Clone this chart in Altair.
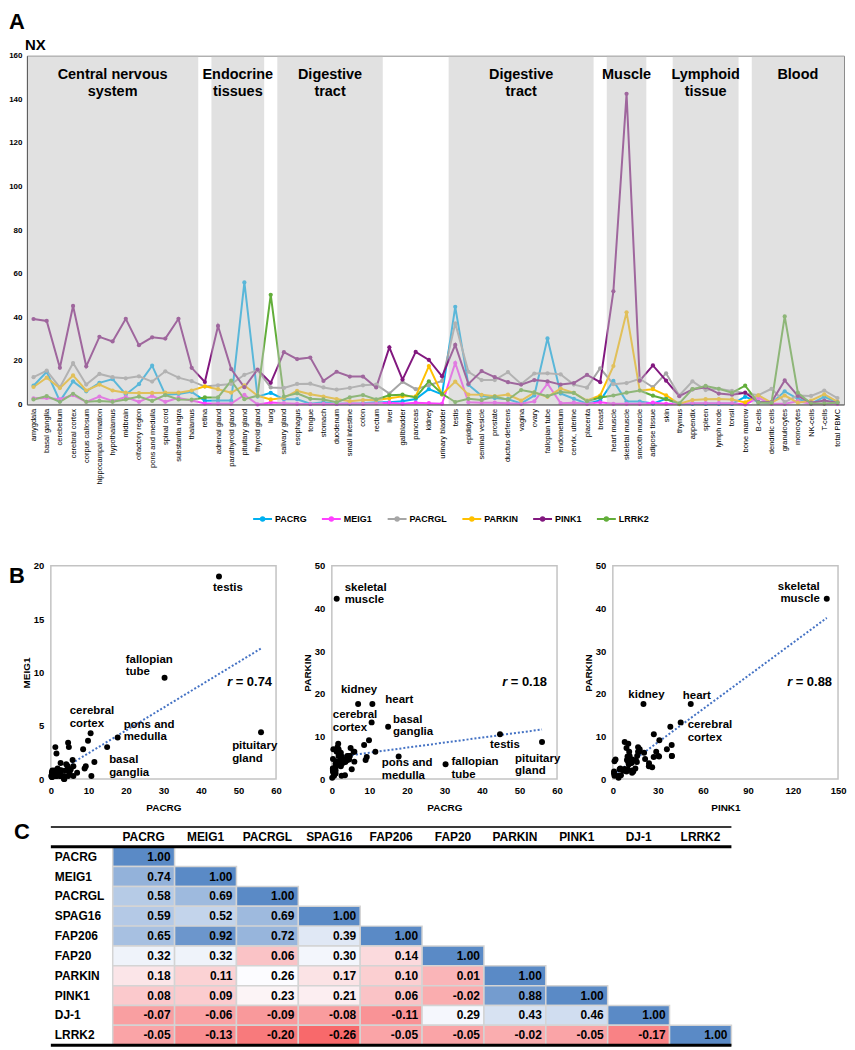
import altair as alt
import pandas as pd
import numpy as np

FONT = 'Liberation Sans'

# ---------------- data ----------------
tissues = ['amygdala', 'basal ganglia', 'cerebellum', 'cerebral cortex', 'corpus callosum',
           'hippocampal formation', 'hypothalamus', 'midbrain', 'olfactory region', 'pons and medulla',
           'spinal cord', 'substantia nigra', 'thalamus', 'retina', 'adrenal gland', 'parathyroid gland',
           'pituitary gland', 'thyroid gland', 'lung', 'salivary gland', 'esophagus', 'tongue', 'stomach',
           'duodenum', 'small intestine', 'colon', 'rectum', 'liver', 'gallbladder', 'pancreas', 'kidney',
           'urinary bladder', 'testis', 'epididymis', 'seminal vesicle', 'prostate', 'ductus deferens',
           'vagina', 'ovary', 'fallopian tube', 'endometrium', 'cervix, uterine', 'placenta', 'breast',
           'heart muscle', 'skeletal muscle', 'smooth muscle', 'adipose tissue', 'skin', 'thymus',
           'appendix', 'spleen', 'lymph node', 'tonsil', 'bone marrow', 'B-cells', 'dendritic cells',
           'granulocytes', 'monocytes', 'NK-cells', 'T-cells', 'total PBMC']

PACRG = [8.6, 15.0, 1.5, 10.6, 6.0, 9.9, 11.6, 4.6, 9.3, 17.8, 4.5, 4.8, 5.8, 1.7, 1.8, 1.8, 56.0, 3.6,
         5.3, 2.4, 2.4, 0.3, 1.0, 0.3, 0.4, 0.6, 1.0, 1.0, 1.5, 2.5, 7.0, 4.6, 44.8, 9.0, 4.0, 2.9, 2.4,
         0.5, 4.1, 30.3, 5.0, 2.6, 0.4, 1.8, 10.8, 1.3, 1.3, 0.4, 2.6, 0.1, 0.3, 0.3, 0.3, 0.3, 3.5, 1.2,
         0.6, 6.0, 2.6, 0.4, 3.5, 1.0]
MEIG1 = [2.8, 3.0, 2.4, 4.3, 1.2, 3.6, 1.6, 3.4, 1.2, 3.9, 1.2, 3.0, 1.8, 0.4, 0.4, 0.4, 4.4, 0.0,
         0.9, 0.6, 0.3, 0.2, 0.3, 0.2, 0.5, 0.3, 0.6, 0.8, 0.3, 0.8, 0.6, 0.3, 19.0, 1.0, 0.8, 0.8, 0.6,
         0.3, 1.4, 9.5, 0.6, 0.8, 0.3, 1.0, 0.3, 0.3, 0.3, 0.8, 0.3, 0.3, 0.6, 0.6, 0.6, 0.6, 0.0, 3.0,
         0.3, 0.3, 1.5, 0.3, 0.3, 0.3]
PACRGL = [12.5, 15.5, 7.8, 19.0, 9.1, 14.0, 12.5, 12.0, 12.9, 10.5, 15.2, 12.3, 10.7, 8.2, 8.8, 9.4,
          13.6, 15.7, 7.8, 7.6, 9.4, 9.5, 7.8, 6.8, 7.6, 8.8, 9.1, 5.0, 10.4, 7.0, 8.8, 10.8, 37.2, 15.0,
          11.2, 11.2, 14.8, 9.4, 14.2, 14.3, 13.8, 9.1, 7.7, 16.6, 9.3, 9.8, 11.8, 7.9, 14.3, 4.1, 10.6,
          6.6, 7.2, 6.2, 5.1, 4.2, 7.2, 1.1, 4.1, 3.9, 6.4, 2.9]
PARKIN = [8.0, 12.3, 7.5, 13.3, 6.4, 9.1, 6.4, 5.4, 5.2, 5.3, 5.4, 5.4, 6.4, 8.3, 7.0, 5.4, 8.7, 4.0,
          2.3, 3.0, 6.2, 4.7, 3.6, 2.5, 1.5, 2.0, 2.0, 2.8, 3.7, 3.7, 17.6, 4.6, 10.5, 4.5, 4.4, 3.8, 4.5,
          1.8, 5.4, 3.5, 7.3, 5.3, 1.8, 4.1, 17.6, 42.3, 6.4, 7.0, 4.2, 0.3, 2.0, 2.4, 2.5, 2.3, 0.9, 4.2,
          0.8, 4.1, 0.8, 1.8, 4.6, 1.3]
PINK1 = [39.2, 38.3, 16.8, 45.2, 17.5, 31.0, 28.9, 39.3, 27.2, 30.8, 30.2, 39.3, 16.8, 10.3, 36.0,
         16.2, 7.9, 16.0, 9.9, 24.0, 20.8, 21.5, 10.8, 15.0, 12.8, 12.8, 7.8, 26.2, 11.4, 24.1, 20.4,
         12.9, 27.3, 9.4, 15.3, 12.5, 10.2, 9.1, 11.2, 10.6, 9.1, 9.8, 13.6, 10.2, 51.9, 142.5, 10.9,
         17.9, 10.9, 3.8, 6.9, 7.9, 5.0, 4.5, 5.4, 1.1, 1.1, 11.0, 3.9, 0.8, 1.8, 0.8]
LRRK2 = [2.3, 3.8, 1.2, 4.9, 1.2, 1.6, 1.2, 2.3, 3.6, 1.6, 4.3, 2.3, 2.2, 3.2, 3.2, 10.9, 2.4, 4.0,
         50.3, 3.6, 5.1, 2.6, 2.3, 1.0, 3.3, 4.3, 2.3, 4.2, 4.5, 3.2, 10.6, 4.9, 1.1, 2.6, 2.0, 3.6, 2.2,
         6.6, 5.5, 3.8, 5.7, 5.3, 1.5, 3.2, 4.1, 5.4, 6.4, 4.0, 2.4, 0.5, 7.0, 8.5, 7.2, 5.4, 8.6, 0.8,
         0.8, 40.4, 5.4, 0.4, 0.4, 0.8]

line_genes = ['PACRG', 'MEIG1', 'PACRGL', 'PARKIN', 'PINK1', 'LRRK2']
line_colors = ['#00B0F0', '#FF40FF', '#A6A6A6', '#FFC000', '#82187F', '#62AE3A']

group_labels = ['Central nervous\nsystem', 'Endocrine\ntissues', 'Digestive\ntract',
                'Digestive\ntract', 'Muscle', 'Lymphoid\ntissue', 'Blood']
group_first = ['amygdala', 'adrenal gland', 'salivary gland', 'testis', 'heart muscle', 'thymus', 'B-cells']
group_last = ['thalamus', 'thyroid gland', 'rectum', 'placenta', 'smooth muscle', 'tonsil', 'total PBMC']

corr_genes = ['PACRG', 'MEIG1', 'PACRGL', 'SPAG16', 'FAP206', 'FAP20', 'PARKIN', 'PINK1', 'DJ-1', 'LRRK2']
corr_rows = [
    [1.00],
    [0.74, 1.00],
    [0.58, 0.69, 1.00],
    [0.59, 0.52, 0.69, 1.00],
    [0.65, 0.92, 0.72, 0.39, 1.00],
    [0.32, 0.32, 0.06, 0.30, 0.14, 1.00],
    [0.18, 0.11, 0.26, 0.17, 0.10, 0.01, 1.00],
    [0.08, 0.09, 0.23, 0.21, 0.06, -0.02, 0.88, 1.00],
    [-0.07, -0.06, -0.09, -0.08, -0.11, 0.29, 0.43, 0.46, 1.00],
    [-0.05, -0.13, -0.20, -0.26, -0.05, -0.05, -0.02, -0.05, -0.17, 1.00],
]

r_values = ['0.74', '0.18', '0.88']

# ---------------- panel A ----------------
n = len(tissues)
series = dict(zip(line_genes, [PACRG, MEIG1, PACRGL, PARKIN, PINK1, LRRK2]))
wide = pd.DataFrame({'tissue': tissues, 'pos': np.arange(n) + 0.5, **series})
long = wide.melt(id_vars=['tissue', 'pos'], value_vars=line_genes, var_name='gene', value_name='nx')

groups = pd.DataFrame({
    'label': group_labels,
    'start': [tissues.index(t) for t in group_first],
    'end': [tissues.index(t) + 1 for t in group_last],
})
groups['mid'] = (groups['start'] + groups['end']) / 2

W_A, H_A = 820, 350
label_expr = '[' + ','.join("'" + t + "'" for t in tissues) + '][floor(datum.value)]'
x_scale_A = alt.Scale(domain=[0, n], nice=False, zero=False)
x_axis_A = alt.Axis(values=[i + 0.5 for i in range(n)], labelExpr=label_expr, labelAngle=-90,
                    labelFont=FONT, labelFontSize=7.5, labelColor='black', labelPadding=4,
                    ticks=False, domainColor='#595959', grid=False, labelOverlap=False,
                    labelFlush=False, zindex=1)
y_scale_A = alt.Scale(domain=[0, 160], nice=False)
y_axis_A = alt.Axis(values=list(range(0, 161, 20)), labelFont=FONT, labelFontSize=8,
                    labelFontWeight='bold', labelColor='black', labelPadding=5, ticks=False,
                    domainColor='#595959', grid=False, zindex=1)


def xA(field):
    return alt.X(field, type='quantitative', scale=x_scale_A, axis=x_axis_A, title=None)


legend_A = alt.Legend(orient='none', legendX=226, legendY=454, direction='horizontal', title=None,
                      symbolType='M-1,0L1,0M-0.18,0A0.18,0.18,0,1,1,0.18,0A0.18,0.18,0,1,1,-0.18,0Z',
                      symbolSize=360, symbolStrokeWidth=2, labelFont=FONT, labelFontSize=9,
                      labelFontWeight='bold', labelColor='black', columnPadding=11, labelOffset=2)
color_A = alt.Color('gene:N', scale=alt.Scale(domain=line_genes, range=line_colors),
                    sort=line_genes, legend=legend_A)

baseA = alt.Chart(long).encode(
    x=xA('pos'),
    y=alt.Y('nx:Q', scale=y_scale_A, axis=y_axis_A, title=None),
    color=color_A,
    detail='gene:N',
)
lines = baseA.mark_line(strokeWidth=2)
dots = baseA.mark_circle(size=18, opacity=1)

bands = alt.Chart(groups).mark_rect(color='#bfbfbf', opacity=0.47).encode(
    x=xA('start'), x2='end:Q', y=alt.datum(160), y2=alt.datum(0))
band_text = alt.Chart(groups).mark_text(
    font=FONT, fontSize=14.5, fontWeight='bold', color='black', lineBreak='\n',
    lineHeight=17.5, baseline='top', align='center').encode(
    x=xA('mid'), y=alt.value(12), text='label:N')

letterA = alt.Chart(pd.DataFrame({'t': ['A']})).mark_text(
    font=FONT, fontSize=22, fontWeight='bold', color='black', align='left', baseline='alphabetic').encode(
    x=alt.value(-18), y=alt.value(-27), text='t:N')
nx_text = alt.Chart(pd.DataFrame({'t': ['NX']})).mark_text(
    font=FONT, fontSize=15, fontWeight='bold', color='black', align='left', baseline='alphabetic').encode(
    x=alt.value(-2), y=alt.value(-6), text='t:N')

chartA = alt.layer(lines, dots, bands, band_text, letterA, nx_text).properties(
    width=W_A, height=H_A, view=alt.ViewBackground(stroke='#8c8c8c', strokeWidth=1))

# ---------------- panel B ----------------
W_S, H_S = 226, 214
ax_common = dict(labelFont=FONT, labelFontSize=9.5, labelFontWeight='bold', labelColor='black',
                 titleFont=FONT, titleFontSize=10, titleFontWeight='bold', titleColor='black',
                 ticks=False, domain=False, grid=False, labelFlush=False)


def scatter(xg, yg, xmax, xstep, ymax, ystep, labels, r_txt, r_x, letter=None):
    xs = alt.X(f'{xg}:Q', scale=alt.Scale(domain=[0, xmax], nice=False),
               axis=alt.Axis(values=list(range(0, xmax + 1, xstep)), labelPadding=6, titlePadding=8,
                             **ax_common), title=xg)
    ys = alt.Y(f'{yg}:Q', scale=alt.Scale(domain=[0, ymax], nice=False),
               axis=alt.Axis(values=list(range(0, ymax + 1, ystep)), labelPadding=7, titlePadding=2,
                             **ax_common), title=yg)
    base = alt.Chart(wide).encode(x=xs, y=ys)
    layers = [
        base.transform_regression(xg, yg).mark_line(color='#4472C4', strokeDash=[2, 2], strokeWidth=2),
        base.mark_circle(size=36, color='black', opacity=1),
    ]
    for tissue, lines_txt, dx, dy, align in labels:
        layers.append(base.transform_filter(alt.datum.tissue == tissue).mark_text(
            text=lines_txt, dx=dx, dy=dy, align=align, baseline='top', font=FONT, fontSize=11.5,
            fontWeight='bold', color='black', lineHeight=12.5))
    rdf = pd.DataFrame({'t': ['= ' + r_txt]})
    layers.append(alt.Chart(rdf).mark_text(font=FONT, fontSize=13, fontWeight='bold', color='black',
                                           align='right', baseline='middle').encode(
        x=alt.value(r_x), y=alt.value(117), text='t:N'))
    layers.append(alt.Chart(pd.DataFrame({'t': ['r']})).mark_text(
        font=FONT, fontSize=13, fontWeight='bold', fontStyle='italic', color='black',
        align='right', baseline='middle').encode(x=alt.value(r_x - 40), y=alt.value(117), text='t:N'))
    if letter:
        layers.append(alt.Chart(pd.DataFrame({'t': [letter]})).mark_text(
            font=FONT, fontSize=22, fontWeight='bold', color='black', align='left',
            baseline='alphabetic').encode(x=alt.value(-42), y=alt.value(17), text='t:N'))
    return alt.layer(*layers).properties(
        width=W_S, height=H_S, view=alt.ViewBackground(stroke='#c3c3c3', strokeWidth=1.5))


s1 = scatter('PACRG', 'MEIG1', 60, 10, 20, 5, [
    ('testis', ['testis'], -6, 6, 'left'),
    ('fallopian tube', ['fallopian', 'tube'], -39, -24, 'left'),
    ('cerebral cortex', ['cerebral', 'cortex'], -21, -28, 'left'),
    ('pons and medulla', ['pons and', 'medulla'], 6, -19, 'left'),
    ('basal ganglia', ['basal', 'ganglia'], 2, 7, 'left'),
    ('pituitary gland', ['pituitary', 'gland'], -29, 8, 'left'),
], r_values[0], 222, letter='B')

s2 = scatter('PACRG', 'PARKIN', 60, 10, 50, 10, [
    ('skeletal muscle', ['skeletal', 'muscle'], 8, -17, 'left'),
    ('kidney', ['kidney'], 1, -20, 'center'),
    ('heart muscle', ['heart'], 13, -10, 'left'),
    ('cerebral cortex', ['cerebral', 'cortex'], -39, -13, 'left'),
    ('basal ganglia', ['basal', 'ganglia'], 5, -13, 'left'),
    ('testis', ['testis'], -10, 5, 'left'),
    ('pituitary gland', ['pituitary', 'gland'], -27, 11, 'left'),
    ('pons and medulla', ['pons and', 'medulla'], -17, 1, 'left'),
    ('fallopian tube', ['fallopian', 'tube'], 6, -8, 'left'),
], r_values[1], 216)

s3 = scatter('PINK1', 'PARKIN', 150, 30, 50, 10, [
    ('skeletal muscle', ['skeletal', 'muscle'], -7, -18, 'right'),
    ('kidney', ['kidney'], 3, -15, 'center'),
    ('heart muscle', ['heart'], -8, -14, 'left'),
    ('cerebral cortex', ['cerebral', 'cortex'], 7, -3, 'left'),
], r_values[2], 220)

# ---------------- panel C ----------------
row_keys = ['hdr'] + corr_genes
col_keys = ['lbl'] + corr_genes
cells = []
for r in row_keys:
    for c in col_keys:
        d = {'row': r, 'col': c, 'v': np.nan, 'txt': '', 'kind': 'blank'}
        if r == 'hdr' and c != 'lbl':
            d.update(txt=c, kind='head')
        elif c == 'lbl' and r != 'hdr':
            d.update(txt=r, kind='name')
        elif r != 'hdr' and c != 'lbl':
            i, j = corr_genes.index(r), corr_genes.index(c)
            if j <= i:
                v = corr_rows[i][j]
                d.update(v=v, txt=f'{v:.2f}', kind='val')
        cells.append(d)
cells = pd.DataFrame(cells)

W_T, H_T = 683, 219
band = alt.Scale(paddingInner=0, paddingOuter=0)


def xT(bp=None):
    if bp is None:
        return alt.X('col:N', sort=col_keys, scale=band, axis=None, title=None)
    return alt.X('col:N', sort=col_keys, scale=band, axis=None, title=None, bandPosition=bp)


def yT(bp=None):
    if bp is None:
        return alt.Y('row:N', sort=row_keys, scale=band, axis=None, title=None)
    return alt.Y('row:N', sort=row_keys, scale=band, axis=None, title=None, bandPosition=bp)


cbase = alt.Chart(cells)
rects = cbase.mark_rect(stroke='#d4d4d4', strokeWidth=1.5).encode(
    x=xT(), y=yT(),
    fill=alt.condition('isValid(datum.v)',
                       alt.Fill('v:Q', scale=alt.Scale(domain=[-0.26, 0.26, 1.0],
                                                       range=['#F8696B', '#FCFCFF', '#5A8AC6'],
                                                       interpolate='rgb'), legend=None),
                       alt.value('white')))
tstyle = dict(font=FONT, fontSize=12, fontWeight='bold', color='black', baseline='middle')
head_t = cbase.transform_filter(alt.datum.kind == 'head').mark_text(align='center', **tstyle).encode(
    x=xT(), y=yT(), text='txt:N')
name_t = cbase.transform_filter(alt.datum.kind == 'name').mark_text(align='left', dx=4, **tstyle).encode(
    x=xT(0), y=yT(), text='txt:N')
val_t = cbase.transform_filter(alt.datum.kind == 'val').mark_text(align='right', dx=-4, **tstyle).encode(
    x=xT(1), y=yT(), text='txt:N')
rule_top = alt.Chart(pd.DataFrame({'row': ['hdr']})).mark_rule(color='#3a3a3a', strokeWidth=2).encode(y=yT(0))
rule_mid = alt.Chart(pd.DataFrame({'row': ['hdr', 'LRRK2']})).mark_rule(color='black', strokeWidth=3).encode(y=yT(1))
letterC = alt.Chart(pd.DataFrame({'t': ['C']})).mark_text(
    font=FONT, fontSize=22, fontWeight='bold', color='black', align='left', baseline='alphabetic').encode(
    x=alt.value(-37), y=alt.value(12), text='t:N')

table = alt.layer(rects, head_t, name_t, val_t, rule_top, rule_mid, letterC).properties(
    width=W_T, height=H_T, view=alt.ViewBackground(stroke='transparent'))

# ---------------- layout ----------------
def spacer():
    return alt.Chart(pd.DataFrame({'a': [0]})).mark_point(opacity=0).properties(
        width=24, height=1, view=alt.ViewBackground(stroke='transparent'))


rowB = alt.hconcat(spacer(), alt.hconcat(s1, s2, s3, spacing=56, bounds='flush'),
                   spacing=0, bounds='flush')
rowC = alt.hconcat(spacer(), table, spacing=0, bounds='flush')
lower = alt.vconcat(rowB, rowC, spacing=6)
chart = alt.vconcat(chartA, lower, spacing=75).properties(padding=0, background='white')

chart.save('out.html', embed_options={'renderer': 'svg', 'actions': False})
